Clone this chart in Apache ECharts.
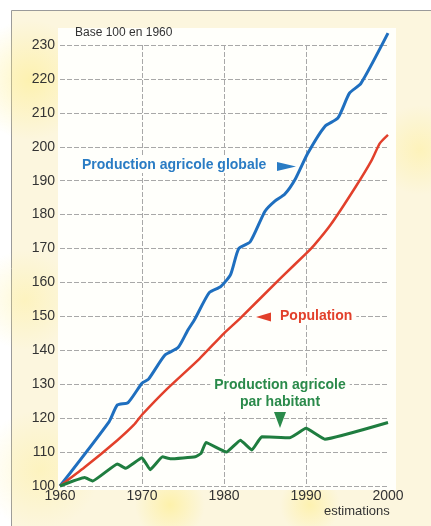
<!DOCTYPE html>
<html>
<head>
<meta charset="utf-8">
<script src="https://cdn.jsdelivr.net/npm/echarts@6/dist/echarts.min.js"></script>
<style>
  html, body { margin: 0; padding: 0; background: #fff; }
  #chart { width: 431px; height: 526px; }
</style>
</head>
<body>
<div id="chart"></div>
<script>
// valeurs (base 100 en 1960)
var globalYears  = [1960, 1966, 1967, 1968.3, 1970, 1970.8, 1972.8, 1974.4, 1975.6, 1976.4, 1978.2, 1979.6, 1980.8, 1981.8, 1983.2, 1985, 1986.2, 1987.4, 1988.7, 1990.2, 1992.3, 1993.9, 1995.3, 1996.7, 2000];
var globalValues = [100, 119, 123.9, 124.6, 130.3, 131.5, 138.6, 140.8, 146, 149, 157, 158.8, 162.3, 170, 172, 181, 184, 186, 190.5, 198, 206, 208.5, 215.8, 218.7, 233.5];

var popYears  = [1960, 1963, 1967, 1969, 1970, 1973, 1977, 1980, 1982, 1987, 1990, 1991, 1993, 1996, 1998, 1999, 2000];
var popValues = [100, 105.5, 113.5, 118, 121, 128.5, 137.5, 145, 149.5, 161.5, 168.5, 171, 177, 188, 196, 201, 203.5];

var perHeadYears  = [1960, 1963, 1964, 1967, 1968, 1970, 1971, 1972.5, 1973.5, 1976.5, 1977.2, 1977.8, 1980.3, 1982, 1983.4, 1984.6, 1988, 1990, 1992.3, 2000];
var perHeadValues = [100, 102.5, 101.5, 106.5, 105.2, 108.3, 104.8, 108.6, 108, 108.6, 109.6, 112.8, 110, 113.5, 110.6, 114.5, 114.2, 117, 113.8, 118.7];

var xTicks = [1960, 1970, 1980, 1990, 2000];
var yTicks = [100, 110, 120, 130, 140, 150, 160, 170, 180, 190, 200, 210, 220, 230];

function pairs(xs, ys) {
  return xs.map(function (x, i) { return [x, ys[i]]; });
}

var sans = '"Liberation Sans", Arial, sans-serif';
var blue = '#1f6fbf';
var red = '#e2402b';
var green = '#1f7d3f';
var paper = '#fffffb';

function glow(cx, cy, rx, ry, alpha) {
  return {
    type: 'ellipse',
    z: -9.5,
    silent: true,
    shape: { cx: cx, cy: cy, rx: rx, ry: ry },
    style: {
      fill: new echarts.graphic.RadialGradient(0.5, 0.5, 0.5, [
        { offset: 0, color: 'rgba(255, 236, 120, ' + alpha + ')' },
        { offset: 1, color: 'rgba(255, 236, 120, 0)' }
      ])
    }
  };
}

var myChart = echarts.init(document.getElementById('chart'));

var option = {
  animation: false,
  grid: {
    left: 60,
    right: 43,
    top: 45,
    bottom: 40
  },
  xAxis: {
    type: 'value',
    min: 1960,
    max: 2000,
    interval: 10,
    axisLine: { show: false },
    axisTick: { show: false },
    axisLabel: {
      margin: 3,
      color: '#333',
      fontSize: 14,
      fontFamily: sans,
      formatter: function (v) { return xTicks.indexOf(v) >= 0 ? String(v) : ''; }
    },
    splitLine: {
      show: true,
      showMinLine: false,
      showMaxLine: false,
      lineStyle: { color: '#a8a8a8', type: [5, 2], width: 1 }
    }
  },
  yAxis: {
    type: 'value',
    min: 100,
    max: 230,
    interval: 10,
    axisLine: { show: false },
    axisTick: { show: false },
    axisLabel: {
      margin: 5,
      color: '#333',
      fontSize: 14,
      fontFamily: sans,
      formatter: function (v) { return yTicks.indexOf(v) >= 0 ? String(v) : ''; }
    },
    splitLine: {
      show: true,
      lineStyle: { color: '#a8a8a8', type: [5, 2], width: 1 }
    }
  },
  graphic: [
    {
      type: 'rect',
      z: -10,
      silent: true,
      shape: { x: 11.5, y: 10.5, width: 440, height: 530 },
      style: { fill: '#fcf6de', stroke: '#9a9a9a', lineWidth: 1 }
    },
    glow(30, 80, 60, 70, 0.45),
    glow(25, 300, 50, 80, 0.3),
    glow(40, 470, 60, 60, 0.3),
    glow(170, 505, 100, 35, 0.5),
    glow(310, 505, 60, 30, 0.45),
    glow(420, 150, 45, 70, 0.35),
    {
      type: 'rect',
      z: -9,
      silent: true,
      shape: { x: 58, y: 28, width: 338, height: 462 },
      style: { fill: paper }
    },
    {
      type: 'text',
      z: 100,
      left: 75,
      top: 27,
      style: { text: 'Base 100 en 1960', fill: '#333', font: '12px ' + sans }
    },
    {
      type: 'text',
      z: 100,
      left: 80,
      top: 157,
      style: {
        text: 'Production agricole globale',
        fill: '#2a7cc4',
        font: 'bold 14px ' + sans,
        backgroundColor: paper,
        padding: [1, 2]
      }
    },
    {
      type: 'polygon',
      z: 100,
      shape: { points: [[277, 162], [296, 166.5], [277, 171]] },
      style: { fill: '#2a7cc4' }
    },
    {
      type: 'text',
      z: 99,
      left: 252,
      top: 308,
      style: {
        text: 'Population',
        fill: red,
        font: 'bold 14px ' + sans,
        backgroundColor: paper,
        padding: [1, 4, 1, 28]
      }
    },
    {
      type: 'polygon',
      z: 100,
      shape: { points: [[271, 312.5], [256, 317], [271, 321.5]] },
      style: { fill: red }
    },
    {
      type: 'text',
      z: 100,
      x: 280,
      y: 376,
      style: {
        text: 'Production agricole\npar habitant',
        fill: '#2a8a4a',
        align: 'center',
        lineHeight: 17,
        font: 'bold 14px ' + sans,
        backgroundColor: paper,
        padding: [1, 4]
      }
    },
    {
      type: 'polygon',
      z: 100,
      shape: { points: [[274, 412], [286, 412], [280, 428]] },
      style: { fill: '#2a8a4a' }
    },
    {
      type: 'text',
      z: 100,
      left: 324,
      top: 505,
      style: { text: 'estimations', fill: '#333', font: '13px ' + sans }
    }
  ],
  series: [
    {
      name: 'Production agricole globale',
      type: 'line',
      data: pairs(globalYears, globalValues),
      symbol: 'none',
      smooth: 0.2,
      clip: false,
      lineStyle: { color: blue, width: 3, join: 'round' }
    },
    {
      name: 'Population',
      type: 'line',
      data: pairs(popYears, popValues),
      symbol: 'none',
      smooth: 0.2,
      clip: false,
      lineStyle: { color: red, width: 2.5, join: 'round' }
    },
    {
      name: 'Production agricole par habitant',
      type: 'line',
      data: pairs(perHeadYears, perHeadValues),
      symbol: 'none',
      smooth: 0.1,
      clip: false,
      lineStyle: { color: green, width: 3, join: 'round' }
    }
  ]
};

myChart.setOption(option);
</script>
</body>
</html>
